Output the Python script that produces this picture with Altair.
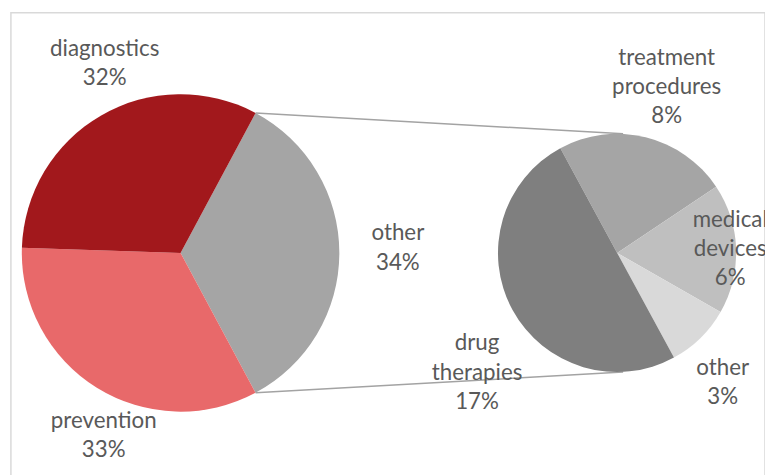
import math
import altair as alt
import pandas as pd

# ---- data ----
main_categories = ["other", "prevention", "diagnostics"]
main_values = [34, 33, 32]
main_colors = ["#A5A5A5", "#E8696A", "#A2181C"]

sub_categories = ["treatment procedures", "medical devices", "other", "drug therapies"]
sub_values = [8, 6, 3, 17]
sub_colors = ["#A5A5A5", "#BFBFBF", "#D9D9D9", "#7F7F7F"]

# ---- layout (plot-area pixel coordinates) ----
PAD = 11
C1 = (182 - PAD, 253 - PAD)
R1 = 160
C2 = (622 - PAD, 253 - PAD)
R2 = 120
A1 = math.radians(28.2)     # start angle of main pie
A2 = math.radians(-28.5)    # start angle of secondary pie
FONT = "Lato"
FS = 22.5
LH = 29.5
TXT = "#595959"


def make_df(cats, vals):
    return pd.DataFrame({
        "category": cats,
        "value": vals,
        "ord": list(range(len(cats))),
        "label": [c.replace(" ", "\n") + "\n" + f"{v}%" for c, v in zip(cats, vals)],
    })


df1 = make_df(main_categories, main_values)
df2 = make_df(sub_categories, sub_values)


def pie(df, cats, colors, center, r, a0):
    return alt.Chart(df).mark_arc(outerRadius=r).encode(
        theta=alt.Theta("value:Q", stack=True,
                        scale=alt.Scale(range=[a0, a0 + 2 * math.pi])),
        color=alt.Color("category:N", scale=alt.Scale(domain=cats, range=colors), legend=None),
        order=alt.Order("ord:Q"),
        x=alt.value(center[0]),
        y=alt.value(center[1]),
    )


def label(df, name, center, r, dx=0, dy=0):
    nlines = name.count(" ") + 2
    dy = dy - (nlines - 1) * LH / 2
    return alt.Chart(df).transform_window(
        cum="sum(value)", sort=[alt.SortField("ord")], frame=[None, 0]
    ).transform_calculate(
        mid="datum.cum - datum.value / 2"
    ).transform_filter(
        alt.datum.category == name
    ).mark_text(
        radius=r, dx=dx, dy=dy, font=FONT, fontSize=FS, color=TXT,
        lineBreak="\n", lineHeight=LH, align="center", baseline="middle",
    ).encode(
        theta=alt.Theta("mid:Q", stack=None),
        text="label:N",
        x=alt.value(center[0]),
        y=alt.value(center[1]),
    )


left = alt.layer(
    pie(df1, main_categories, main_colors, C1, R1, A1),
    label(df1, "diagnostics", C1, 205, 26, -13),
    label(df1, "prevention", C1, 200, 28, 14),
    label(df1, "other", C1, 215, 4, -5),
)

right = alt.layer(
    pie(df2, sub_categories, sub_colors, C2, R2, A2),
    label(df2, "treatment procedures", C2, 175, 8, 3),
    label(df2, "medical devices", C2, 107, 7, 0),
    label(df2, "other", C2, 165, -9, 13),
    label(df2, "drug therapies", C2, 188, 24, 31),
)

# connector lines between the two pies
a_end = A1 + 2 * math.pi * main_values[0] / sum(main_values)
top_left = (C1[0] + R1 * math.sin(A1), C1[1] - R1 * math.cos(A1))
bot_left = (C1[0] + R1 * math.sin(a_end), C1[1] - R1 * math.cos(a_end))
top_right = (C2[0] + 6, C2[1] - R2)
bot_right = (C2[0] + 6, C2[1] + R2)

dummy = pd.DataFrame({"k": [0]})
rule_top = alt.Chart(dummy).mark_rule(color="#A3A3A3", strokeWidth=1.5).encode(
    x=alt.value(top_left[0]), y=alt.value(top_left[1]),
    x2=alt.value(top_right[0]), y2=alt.value(top_right[1]))
rule_bot = alt.Chart(dummy).mark_rule(color="#A3A3A3", strokeWidth=1.5).encode(
    x=alt.value(bot_left[0]), y=alt.value(bot_left[1]),
    x2=alt.value(bot_right[0]), y2=alt.value(bot_right[1]))

chart = alt.layer(rule_top, rule_bot, left, right).resolve_scale(
    theta="independent", color="independent"
).properties(
    width=760, height=470,
    padding={"left": PAD, "top": PAD, "right": 0, "bottom": 0},
    autosize="none",
    background="white",
).configure_view(stroke="#D9D9D9", strokeWidth=1.5)

chart.save("out.html", embed_options={"renderer": "svg", "actions": False})
